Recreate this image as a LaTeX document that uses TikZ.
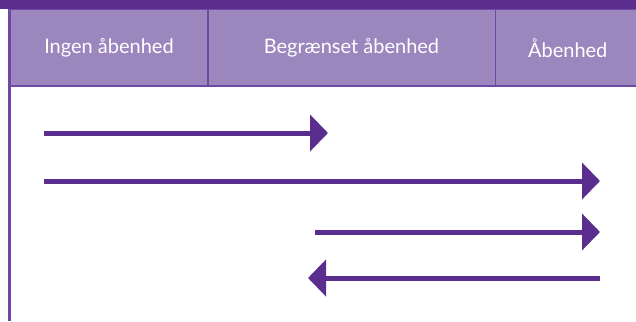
\documentclass[tikz,border=0pt]{standalone}
\usepackage{fontspec}
\setmainfont{Lato}
\usetikzlibrary{arrows.meta}
\definecolor{darkpurple}{HTML}{5B2D8E}
\definecolor{headpurple}{HTML}{9C86BE}
\definecolor{linepurple}{HTML}{7048A4}
\begin{document}
\begin{tikzpicture}[x=1pt,y=-1pt,
  headcell/.style={draw=linepurple,line width=1.5pt,fill=headpurple,text=white,
    font=\fontsize{20}{24}\selectfont,anchor=north west,inner sep=0pt,minimum height=76pt},
  bigarrow/.style={draw=darkpurple,line width=5pt,-{Triangle[length=18pt,width=36pt]}}]
\useasboundingbox (0,0) rectangle (636,321);
\fill[white] (0,0) rectangle (636,321);
\draw[linepurple,line width=2.2pt] (9.5,9) -- (9.5,321);
\node[headcell,minimum width=197.5pt] (c1) at (9.5,9) {Ingen åbenhed};
\node[headcell,minimum width=287.5pt] (c2) at (207,9) {Begrænset åbenhed};
\node[headcell,minimum width=145pt] (c3) at (494.5,9) {Åbenhed};
\fill[darkpurple] (0,0) rectangle (636,9);
\coordinate (a1s) at (44,133);
\coordinate (a1e) at (328,133);
\coordinate (a2s) at (44,181);
\coordinate (a2e) at (600,181);
\coordinate (a3s) at (315,232);
\coordinate (a3e) at (600,232);
\coordinate (a4s) at (600,278);
\coordinate (a4e) at (308,278);
\draw[bigarrow] (a1s) -- (a1e);
\draw[bigarrow] (a2s) -- (a2e);
\draw[bigarrow] (a3s) -- (a3e);
\draw[bigarrow] (a4s) -- (a4e);
\end{tikzpicture}
\end{document}
